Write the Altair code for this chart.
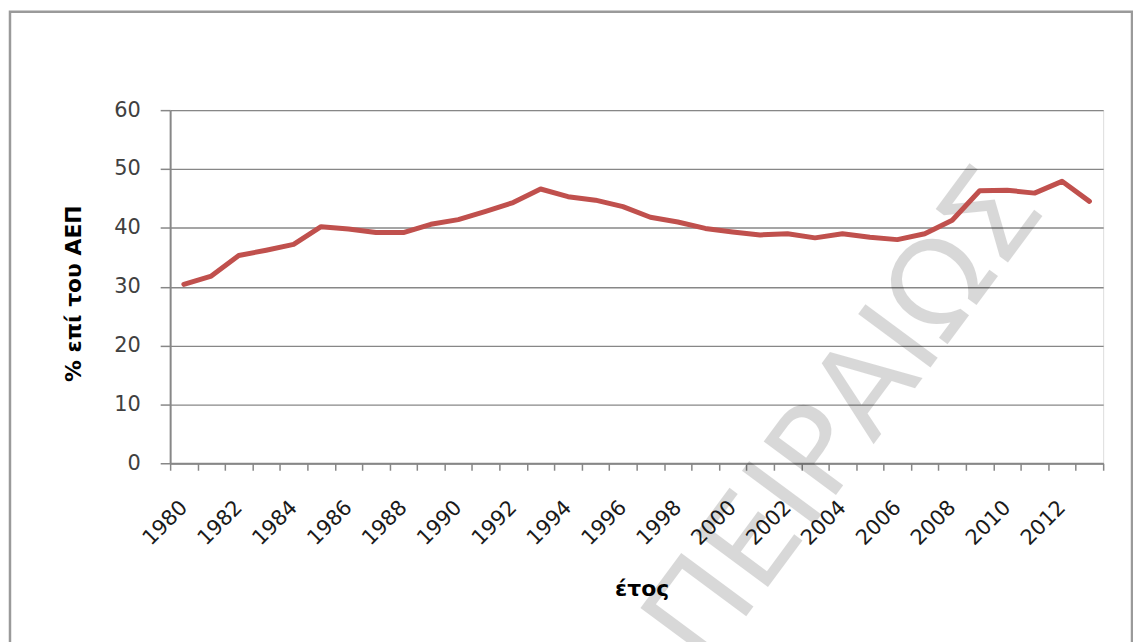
import altair as alt
import pandas as pd

# ---- data ----
years = list(range(1980, 2014))
values = [30.4, 31.8, 35.3, 36.2, 37.2, 40.2, 39.8, 39.2, 39.2, 40.6,
          41.4, 42.8, 44.3, 46.6, 45.3, 44.7, 43.6, 41.8, 41.0, 39.9,
          39.3, 38.8, 39.0, 38.3, 39.0, 38.4, 38.0, 39.0, 41.3, 46.3,
          46.4, 45.9, 47.9, 44.5]
y_ticks = [0, 10, 20, 30, 40, 50, 60]
x_title = "έτος"
y_title = "% επί του ΑΕΠ"
watermark = ["ΠΕΙΡΑΙΩΣ"]

df = pd.DataFrame({"year": years, "value": values})
wm_df = pd.DataFrame({"t": watermark})
frame_df = pd.DataFrame({"k": [0]})

W, H = 938, 355
GRID = "#878787"
FONT = "DejaVu Sans"

x_enc = alt.X(
    "year:O",
    scale=alt.Scale(type="band", paddingInner=0, paddingOuter=0),
    axis=alt.Axis(
        title=x_title,
        labelAngle=315,
        labelAlign="right",
        labelBaseline="middle",
        labelPadding=34,
        labelOverlap=False,
        labelExpr="datum.value % 2 == 0 ? datum.label : ''",
        labelFont=FONT,
        labelFontSize=21,
        labelColor="#1a1a1a",
        tickSize=7,
        tickBand="extent",
        tickColor=GRID,
        tickWidth=1.5,
        domainColor=GRID,
        domainWidth=2,
        grid=False,
        titleFont=FONT,
        titleFontSize=22,
        titleFontWeight="bold",
        titleColor="#000000",
        titleX=474,
        titleY=133,
        titleAlign="center",
        titleBaseline="alphabetic",
    ),
)

y_enc = alt.Y(
    "value:Q",
    scale=alt.Scale(domain=[0, 60], nice=False, zero=True),
    axis=alt.Axis(
        values=y_ticks,
        title=y_title,
        tickSize=10,
        tickColor=GRID,
        tickWidth=1.5,
        labelPadding=20,
        labelFont=FONT,
        labelFontSize=21,
        labelColor="#404040",
        grid=True,
        gridColor=GRID,
        gridWidth=1.4,
        domainColor=GRID,
        domainWidth=2,
        titleFont=FONT,
        titleFontSize=22,
        titleFontWeight="bold",
        titleColor="#000000",
        titleAngle=270,
        titleX=-90,
        titleY=184,
        titleAlign="center",
        titleBaseline="alphabetic",
    ),
)

frame = alt.Chart(frame_df).mark_rect(
    filled=False, stroke="#9a9a9a", strokeWidth=2.5
).encode(
    x=alt.value(-161), x2=alt.value(967), y=alt.value(-99), y2=alt.value(700)
)

wm = alt.Chart(wm_df).mark_text(
    font=FONT, fontSize=124, angle=306.5, align="center", baseline="alphabetic",
    color="#000000", opacity=0.15
).encode(
    text="t:N", x=alt.value(710), y=alt.value(332)
)

line = alt.Chart(df).mark_line(
    color="#C0504D", strokeWidth=5, strokeJoin="round", strokeCap="round"
).encode(x=x_enc, y=y_enc)

chart = alt.layer(frame, wm, line).properties(
    width=W,
    height=H,
    autosize=alt.AutoSizeParams(type="none"),
    padding={"left": 163, "top": 101, "right": 30, "bottom": 178},
).configure_view(strokeWidth=0).configure(background="white")

chart.save("out.html", embed_options={"renderer": "svg", "actions": False})
